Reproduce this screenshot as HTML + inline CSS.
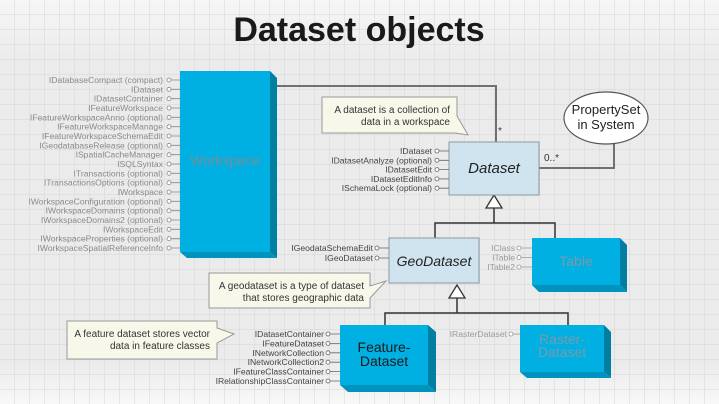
<!DOCTYPE html>
<html><head><meta charset="utf-8"><style>
html,body{margin:0;padding:0;width:719px;height:404px;overflow:hidden;background:#ececec}
svg{display:block}
text{font-family:"Liberation Sans",sans-serif}
</style></head><body>
<svg width="719" height="404" viewBox="0 0 719 404" xmlns="http://www.w3.org/2000/svg">
<defs>
<pattern id="g" width="15" height="15" patternUnits="userSpaceOnUse">
<path d="M15 0V15H0" fill="none" stroke="#d6d6d6" stroke-width="1"/>
</pattern>
<linearGradient id="bg" x1="0" y1="0" x2="0" y2="1">
<stop offset="0" stop-color="#f6f6f6"/><stop offset="0.15" stop-color="#ebebeb"/><stop offset="0.9" stop-color="#ebebeb"/><stop offset="1" stop-color="#f8f8f8"/>
</linearGradient>
</defs>
<rect width="719" height="404" fill="url(#bg)"/>
<rect width="719" height="404" fill="url(#g)"/>
<text x="359" y="41" text-anchor="middle" font-size="34" font-weight="bold" fill="#1a1a1a">Dataset objects</text>

<!-- connectors -->
<g fill="none" stroke="#707070" stroke-width="2">
<polyline points="277,86 496,86 496,142"/>
<polyline points="539,168 614,168 614,143"/>
</g>
<g fill="none" stroke="#333" stroke-width="1.5">
<polyline points="494,207 494,223"/>
<polyline points="435,238 435,223 555,223 555,238"/>
<polyline points="457,298 457,313"/>
<polyline points="385,325 385,313 568,313 568,325"/>
</g>
<polygon points="494,195 486,208 502,208" fill="#fff" stroke="#333" stroke-width="1.3"/>
<polygon points="457,285 449,298 465,298" fill="#fff" stroke="#333" stroke-width="1.3"/>
<text x="498" y="134" font-size="10" fill="#333">*</text>
<text x="544" y="161" font-size="10" fill="#333">0..*</text>

<!-- ellipse -->
<ellipse cx="606" cy="118" rx="42" ry="26" fill="#fff" stroke="#555" stroke-width="1.2"/>
<text x="606" y="114" text-anchor="middle" font-size="13" fill="#222">PropertySet</text>
<text x="606" y="129" text-anchor="middle" font-size="13" fill="#222">in System</text>

<!-- Workspace -->
<polygon points="270,71 277,78 277,258 270,252" fill="#007fa3"/>
<polygon points="180,252 270,252 277,258 187,258" fill="#0093bd"/>
<rect x="180" y="71" width="90" height="181" fill="#00b0e3"/>
<text x="225" y="165" text-anchor="middle" font-size="14" fill="#7a8c96">Workspace</text>
<g font-size="8.6" fill="#8a8a8a" text-anchor="end">
<text x="163" y="83">IDatabaseCompact (compact)</text>
<text x="163" y="92.3">IDataset</text>
<text x="163" y="101.7">IDatasetContainer</text>
<text x="163" y="111">IFeatureWorkspace</text>
<text x="163" y="120.3">IFeatureWorkspaceAnno (optional)</text>
<text x="163" y="129.7">IFeatureWorkspaceManage</text>
<text x="163" y="139">IFeatureWorkspaceSchemaEdit</text>
<text x="163" y="148.3">IGeodatabaseRelease (optional)</text>
<text x="163" y="157.7">ISpatialCacheManager</text>
<text x="163" y="167">ISQLSyntax</text>
<text x="163" y="176.3">ITransactions (optional)</text>
<text x="163" y="185.7">ITransactionsOptions (optional)</text>
<text x="163" y="195">IWorkspace</text>
<text x="163" y="204.3">IWorkspaceConfiguration (optional)</text>
<text x="163" y="213.7">IWorkspaceDomains (optional)</text>
<text x="163" y="223">IWorkspaceDomains2 (optional)</text>
<text x="163" y="232.3">IWorkspaceEdit</text>
<text x="163" y="241.7">IWorkspaceProperties (optional)</text>
<text x="163" y="251">IWorkspaceSpatialReferenceInfo</text>
</g>
<g stroke="#888" stroke-width="0.8" fill="#fff">
<path d="M171 80H180M171 89.3H180M171 98.7H180M171 108H180M171 117.3H180M171 126.7H180M171 136H180M171 145.3H180M171 154.7H180M171 164H180M171 173.3H180M171 182.7H180M171 192H180M171 201.3H180M171 210.7H180M171 220H180M171 229.3H180M171 238.7H180M171 248H180"/>
<circle cx="169" cy="80" r="2"/><circle cx="169" cy="89.3" r="2"/><circle cx="169" cy="98.7" r="2"/><circle cx="169" cy="108" r="2"/><circle cx="169" cy="117.3" r="2"/><circle cx="169" cy="126.7" r="2"/><circle cx="169" cy="136" r="2"/><circle cx="169" cy="145.3" r="2"/><circle cx="169" cy="154.7" r="2"/><circle cx="169" cy="164" r="2"/><circle cx="169" cy="173.3" r="2"/><circle cx="169" cy="182.7" r="2"/><circle cx="169" cy="192" r="2"/><circle cx="169" cy="201.3" r="2"/><circle cx="169" cy="210.7" r="2"/><circle cx="169" cy="220" r="2"/><circle cx="169" cy="229.3" r="2"/><circle cx="169" cy="238.7" r="2"/><circle cx="169" cy="248" r="2"/>
</g>

<!-- Dataset -->
<rect x="449" y="142" width="90" height="53" fill="#cfe4ef" stroke="#8a9aa2" stroke-width="1"/>
<text x="494" y="173" text-anchor="middle" font-size="15" font-style="italic" fill="#222">Dataset</text>
<g font-size="8.6" fill="#444" text-anchor="end">
<text x="432" y="154">IDataset</text>
<text x="432" y="163.3">IDatasetAnalyze (optional)</text>
<text x="432" y="172.6">IDatasetEdit</text>
<text x="432" y="181.9">IDatasetEditInfo</text>
<text x="432" y="191.2">ISchemaLock (optional)</text>
</g>
<g stroke="#666" stroke-width="0.8" fill="#fff">
<path d="M439 151H449M439 160.3H449M439 169.6H449M439 178.9H449M439 188.2H449"/>
<circle cx="437" cy="151" r="2"/><circle cx="437" cy="160.3" r="2"/><circle cx="437" cy="169.6" r="2"/><circle cx="437" cy="178.9" r="2"/><circle cx="437" cy="188.2" r="2"/>
</g>

<!-- GeoDataset -->
<rect x="389" y="238" width="90" height="45" fill="#cfe4ef" stroke="#8a9aa2" stroke-width="1"/>
<text x="434" y="266" text-anchor="middle" font-size="14" font-style="italic" fill="#222">GeoDataset</text>
<g font-size="8.6" fill="#444" text-anchor="end">
<text x="373" y="251">IGeodataSchemaEdit</text>
<text x="373" y="261">IGeoDataset</text>
</g>
<g stroke="#666" stroke-width="0.8" fill="#fff">
<path d="M379 248H389M379 258H389"/>
<circle cx="377" cy="248" r="2"/><circle cx="377" cy="258" r="2"/>
</g>

<!-- Table -->
<polygon points="620,238 627,245 627,292 620,285" fill="#007fa3"/>
<polygon points="532,285 620,285 627,292 539,292" fill="#0093bd"/>
<rect x="532" y="238" width="88" height="47" fill="#00b0e3"/>
<text x="576" y="266" text-anchor="middle" font-size="14" fill="#7a9aaa">Table</text>
<g font-size="8.6" fill="#9a9a9a" text-anchor="end">
<text x="515" y="251">IClass</text>
<text x="515" y="260.5">ITable</text>
<text x="515" y="270">ITable2</text>
</g>
<g stroke="#999" stroke-width="0.8" fill="#fff">
<path d="M521 248H532M521 257.5H532M521 267H532"/>
<circle cx="519" cy="248" r="2"/><circle cx="519" cy="257.5" r="2"/><circle cx="519" cy="267" r="2"/>
</g>

<!-- FeatureDataset -->
<polygon points="428,325 436,332 436,392 428,385" fill="#007fa3"/>
<polygon points="340,385 428,385 436,392 348,392" fill="#0093bd"/>
<rect x="340" y="325" width="88" height="60" fill="#00b0e3"/>
<text x="384" y="352" text-anchor="middle" font-size="14" fill="#1a1a1a">Feature-</text>
<text x="384" y="366" text-anchor="middle" font-size="14" fill="#1a1a1a">Dataset</text>
<g font-size="8.6" fill="#444" text-anchor="end">
<text x="324" y="337">IDatasetContainer</text>
<text x="324" y="346.4">IFeatureDataset</text>
<text x="324" y="355.8">INetworkCollection</text>
<text x="324" y="365.2">INetworkCollection2</text>
<text x="324" y="374.6">IFeatureClassContainer</text>
<text x="324" y="384">IRelationshipClassContainer</text>
</g>
<g stroke="#666" stroke-width="0.8" fill="#fff">
<path d="M330 334H340M330 343.4H340M330 352.8H340M330 362.2H340M330 371.6H340M330 381H340"/>
<circle cx="328" cy="334" r="2"/><circle cx="328" cy="343.4" r="2"/><circle cx="328" cy="352.8" r="2"/><circle cx="328" cy="362.2" r="2"/><circle cx="328" cy="371.6" r="2"/><circle cx="328" cy="381" r="2"/>
</g>

<!-- RasterDataset -->
<polygon points="604,325 611,332 611,378 604,372" fill="#007fa3"/>
<polygon points="520,372 604,372 611,378 527,378" fill="#0093bd"/>
<rect x="520" y="325" width="84" height="47" fill="#00b0e3"/>
<text x="562" y="344" text-anchor="middle" font-size="14" fill="#7a9aaa">Raster-</text>
<text x="562" y="357" text-anchor="middle" font-size="14" fill="#7a9aaa">Dataset</text>
<text x="507" y="337" text-anchor="end" font-size="8.6" fill="#9a9a9a">IRasterDataset</text>
<g stroke="#999" stroke-width="0.8" fill="#fff">
<path d="M513 334H520"/><circle cx="511" cy="334" r="2"/>
</g>

<!-- callouts -->
<g fill="#f8f8ea" stroke="#999" stroke-width="1">
<polygon points="322,97 457,97 457,116 468,135 455,133 457,133 322,133"/>
<polygon points="209,273 370,273 370,286 386,281 370,298 370,308 209,308"/>
<polygon points="67,321 217,321 217,328 234,334 217,343 217,359 67,359"/>
</g>
<g font-size="10" fill="#333" text-anchor="end">
<text x="450" y="113">A dataset is a collection of</text>
<text x="450" y="125">data in a workspace</text>
<text x="364" y="289">A geodataset is a type of dataset</text>
<text x="364" y="301">that stores geographic data</text>
<text x="210" y="337">A feature dataset stores vector</text>
<text x="210" y="349">data in feature classes</text>
</g>
</svg>
</body></html>
